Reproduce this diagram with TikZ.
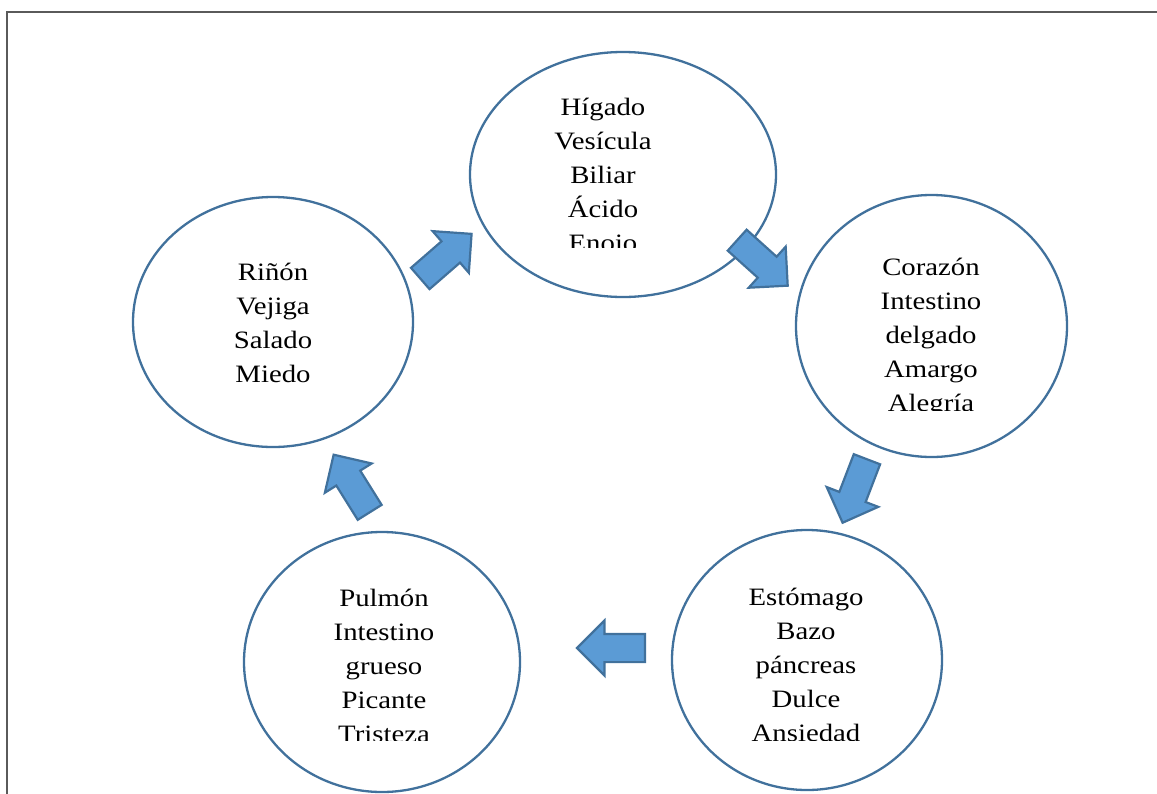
\documentclass[tikz,border=0pt]{standalone}
\usepackage{fontspec}
\setmainfont{Liberation Serif}
\usetikzlibrary{shapes.geometric}
\usetikzlibrary{shapes.arrows}
\definecolor{borde}{HTML}{41719C}
\definecolor{azul}{HTML}{5B9BD5}
\definecolor{marco}{HTML}{5A5A5A}

\begin{document}
\begin{tikzpicture}[x=1pt, y=-1pt,
		organo/.style={draw=borde, line width=2.3pt, ellipse, inner sep=0pt},
		texto/.style={anchor=base, text width=170pt, align=center, inner sep=0pt, xscale=1.15, font=\fontsize{25}{34}\selectfont},
		flecha/.style={single arrow, draw=borde, line width=2.2pt, fill=azul, inner sep=0pt, text height=13pt, text depth=13pt, minimum width=53pt, single arrow head extend=13.5pt, single arrow head indent=0pt, minimum height=68pt}]
			\useasboundingbox (0,0) rectangle (1157,793);
			\draw[marco, line width=2pt] (7,12) rectangle (1175,815);

			% Circles of the cycle
			\node[organo, minimum width=306pt, minimum height=245pt] (higado) at (623,174.5) {};
			\node[organo, minimum width=271pt, minimum height=262pt] (corazon) at (931.5,326) {};
			\node[organo, minimum width=270pt, minimum height=260pt] (estomago) at (807,660) {};
			\node[organo, minimum width=276pt, minimum height=260pt] (pulmon) at (382,662) {};
			\node[organo, minimum width=280pt, minimum height=250pt] (rinon) at (273,322) {};

			% Texts, cut at the bottom of their boxes
			\begin{scope}
				\clip (480,60) rectangle (770,247);
				\node[texto] (higadotxt) at (603,115) {Hígado\\Vesícula\\Biliar\\Ácido\\Enojo};
			\end{scope}
			\begin{scope}
				\clip (800,230) rectangle (1060,410);
				\node[texto] (corazontxt) at (931,275) {Corazón\\Intestino\\delgado\\Amargo\\Alegría};
			\end{scope}
			\begin{scope}
				\clip (680,560) rectangle (935,740);
				\node[texto] (estomagotxt) at (806,605) {Estómago\\Bazo\\páncreas\\Dulce\\Ansiedad};
			\end{scope}
			\begin{scope}
				\clip (250,560) rectangle (515,740);
				\node[texto] (pulmontxt) at (384,606) {Pulmón\\Intestino\\grueso\\Picante\\Tristeza};
			\end{scope}
			\node[texto] (rinontxt) at (273,280) {Riñón\\Vejiga\\Salado\\Miedo};

			% Block arrows between circles
			\node[flecha, rotate=41] (f1) at (440.6,260.8) {};
			\node[flecha, rotate=-42] (f2) at (757.2,258.2) {};
			\node[flecha, rotate=-111] (f3) at (857.3,484.4) {};
			\node[flecha, rotate=180] (f4) at (618,648) {};
			\node[flecha, rotate=122] (f5) at (355.4,489.5) {};
		\end{tikzpicture}
\end{document}
